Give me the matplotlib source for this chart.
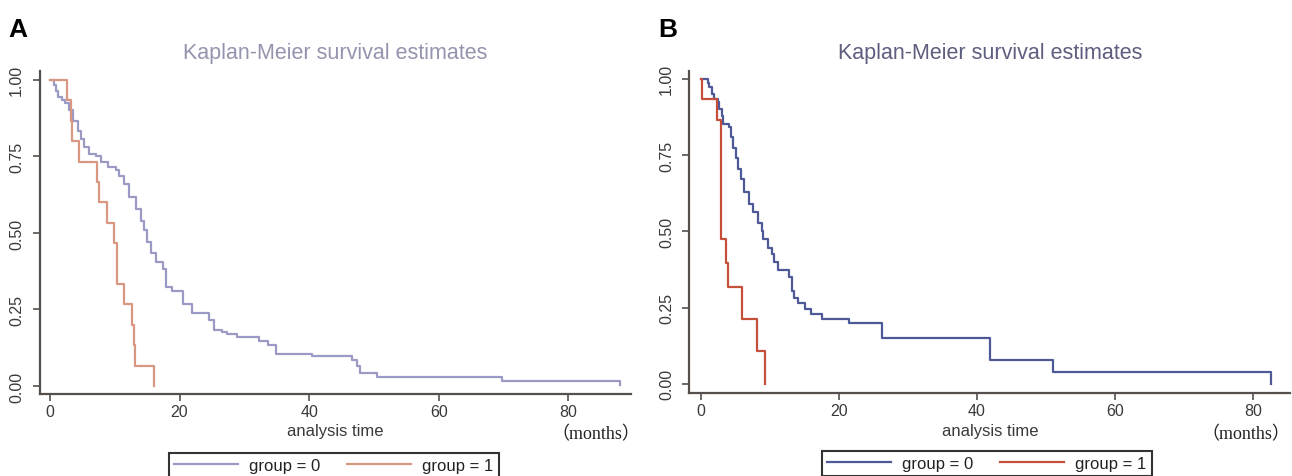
import matplotlib
matplotlib.use('Agg')
import matplotlib.pyplot as plt

plt.rcParams['font.family'] = ['Liberation Sans', 'DejaVu Sans']

# Panel A: survival estimates (time in months, survival probability)
a_g0_time = [0, 0.6, 1.0, 1.3, 1.8, 2.3, 3.0, 3.5, 4.3, 4.8, 5.3, 6.0, 7.1, 7.9, 8.9,
             10.2, 10.7, 11.5, 12.2, 13.3, 14.1, 14.5, 14.9, 15.6, 16.4, 17.4, 17.9,
             18.9, 20.5, 22.0, 24.5, 25.3, 26.5, 27.3, 28.9, 32.2, 33.7, 34.9, 40.4,
             46.7, 47.4, 47.8, 50.5, 69.8, 88.0]
a_g0_surv = [1.0, 0.984, 0.965, 0.945, 0.935, 0.925, 0.900, 0.867, 0.834, 0.807, 0.780,
             0.758, 0.750, 0.733, 0.717, 0.706, 0.687, 0.660, 0.617, 0.578, 0.540, 0.510,
             0.470, 0.433, 0.404, 0.382, 0.322, 0.311, 0.268, 0.237, 0.217, 0.184, 0.178,
             0.170, 0.159, 0.146, 0.134, 0.105, 0.097, 0.086, 0.064, 0.042, 0.029, 0.016,
             0.005]
a_g1_time = [0, 2.6, 3.2, 3.4, 4.5, 7.3, 7.5, 8.8, 9.9, 10.4, 11.4, 12.6, 12.9, 13.2, 16.0]
a_g1_surv = [1.0, 0.933, 0.867, 0.800, 0.733, 0.667, 0.600, 0.533, 0.467, 0.333, 0.267,
             0.200, 0.133, 0.067, 0.0]

# Panel B
b_g0_time = [0, 1.0, 1.2, 1.6, 1.9, 2.4, 2.65, 3.0, 3.2, 4.0, 4.35, 4.7, 5.1, 5.3, 5.8,
             6.3, 6.9, 7.5, 8.2, 8.8, 9.0, 9.7, 10.3, 10.6, 11.1, 12.8, 13.2, 13.5, 14.0,
             15.1, 15.9, 17.5, 21.5, 26.2, 41.9, 51.0, 82.7]
b_g0_surv = [1.0, 0.986, 0.972, 0.950, 0.935, 0.923, 0.901, 0.879, 0.852, 0.841, 0.808,
             0.775, 0.742, 0.704, 0.671, 0.628, 0.589, 0.562, 0.529, 0.502, 0.474, 0.447,
             0.425, 0.400, 0.372, 0.349, 0.305, 0.283, 0.264, 0.247, 0.228, 0.214, 0.198,
             0.152, 0.077, 0.040, 0.0]
b_g1_time = [0, 0.2, 2.3, 2.85, 2.95, 3.6, 3.9, 5.9, 8.1, 9.3]
b_g1_surv = [1.0, 0.934, 0.865, 0.710, 0.474, 0.395, 0.316, 0.212, 0.107, 0.0]

x_ticks = [0, 20, 40, 60, 80]
y_ticks = [0.0, 0.25, 0.5, 0.75, 1.0]
y_labels = ['0.00', '0.25', '0.50', '0.75', '1.00']

W, H = 1292, 477
fig = plt.figure(figsize=(W / 100, H / 100), dpi=100)

panels = [
    dict(label='A', rect=[39.5, 72, 631, 395], xlim=(-1.62, 89.7), ylim=(-0.026, 1.029),
         data=[(a_g0_time, a_g0_surv), (a_g1_time, a_g1_surv)],
         colors=['#9a9ac4', '#d99680'], title_color='#9494ae',
         label_xy=(8, 30), months_right=640, legend=(334, 454)),
    dict(label='B', rect=[689.5, 72, 1290, 394], xlim=(-1.67, 85.4), ylim=(-0.03, 1.026),
         data=[(b_g0_time, b_g0_surv), (b_g1_time, b_g1_surv)],
         colors=['#4e5a98', '#c4503c'], title_color='#5e5e80',
         label_xy=(658, 30), months_right=1290, legend=(987, 452)),
]

for p in panels:
    l, t, r, b = p['rect']
    ax = fig.add_axes([l / W, 1 - b / H, (r - l) / W, (b - t) / H])
    lines = []
    for (tm, sv), c, name in zip(p['data'], p['colors'], ['group = 0', 'group = 1']):
        ln, = ax.step(tm, sv, where='post', color=c, lw=1.6, label=name)
        lines.append(ln)
    ax.set_xlim(*p['xlim'])
    ax.set_ylim(*p['ylim'])
    ax.set_xticks(x_ticks)
    ax.set_yticks(y_ticks)
    ax.set_yticklabels(y_labels, rotation=90, va='center')
    for s in ['top', 'right']:
        ax.spines[s].set_visible(False)
    for s in ['left', 'bottom']:
        ax.spines[s].set_color('#55504c')
        ax.spines[s].set_linewidth(1.6)
    ax.tick_params(axis='both', direction='out', length=5, width=1.2, color='#55504c',
                   labelsize=11.5, labelcolor='#3a3a3a')
    ax.tick_params(axis='y', pad=6)
    ax.tick_params(axis='x', pad=2)

    cx = (l + r) / 2
    fig.text(cx / W, 1 - 53 / H, 'Kaplan-Meier survival estimates', ha='center', va='center',
             fontsize=15.5, color=p['title_color'])
    fig.text(cx / W, 1 - 432 / H, 'analysis time', ha='center', va='center',
             fontsize=12, color='#3a3a3a')
    fig.text(p['months_right'] / W, 1 - 435 / H, '（months）', ha='right', va='center',
             fontsize=13, color='#222222', family=['Liberation Serif', 'Noto Sans CJK SC'])
    fig.text(p['label_xy'][0] / W, 1 - p['label_xy'][1] / H, p['label'], ha='left',
             va='center', fontsize=19, fontweight='bold', color='black')

    lx, ly = p['legend']
    leg = ax.legend(handles=lines, loc='upper center', ncol=2,
                    bbox_to_anchor=(lx / W, 1 - ly / H), bbox_transform=fig.transFigure,
                    fontsize=12, frameon=True, fancybox=False, framealpha=1,
                    handlelength=3.8, handletextpad=0.7, columnspacing=1.6,
                    borderpad=0.3, borderaxespad=0)
    leg.get_frame().set_edgecolor('#333333')
    leg.get_frame().set_linewidth(1.5)
    for txt in leg.get_texts():
        txt.set_color('#222222')

fig.savefig('out.png', dpi=100)
